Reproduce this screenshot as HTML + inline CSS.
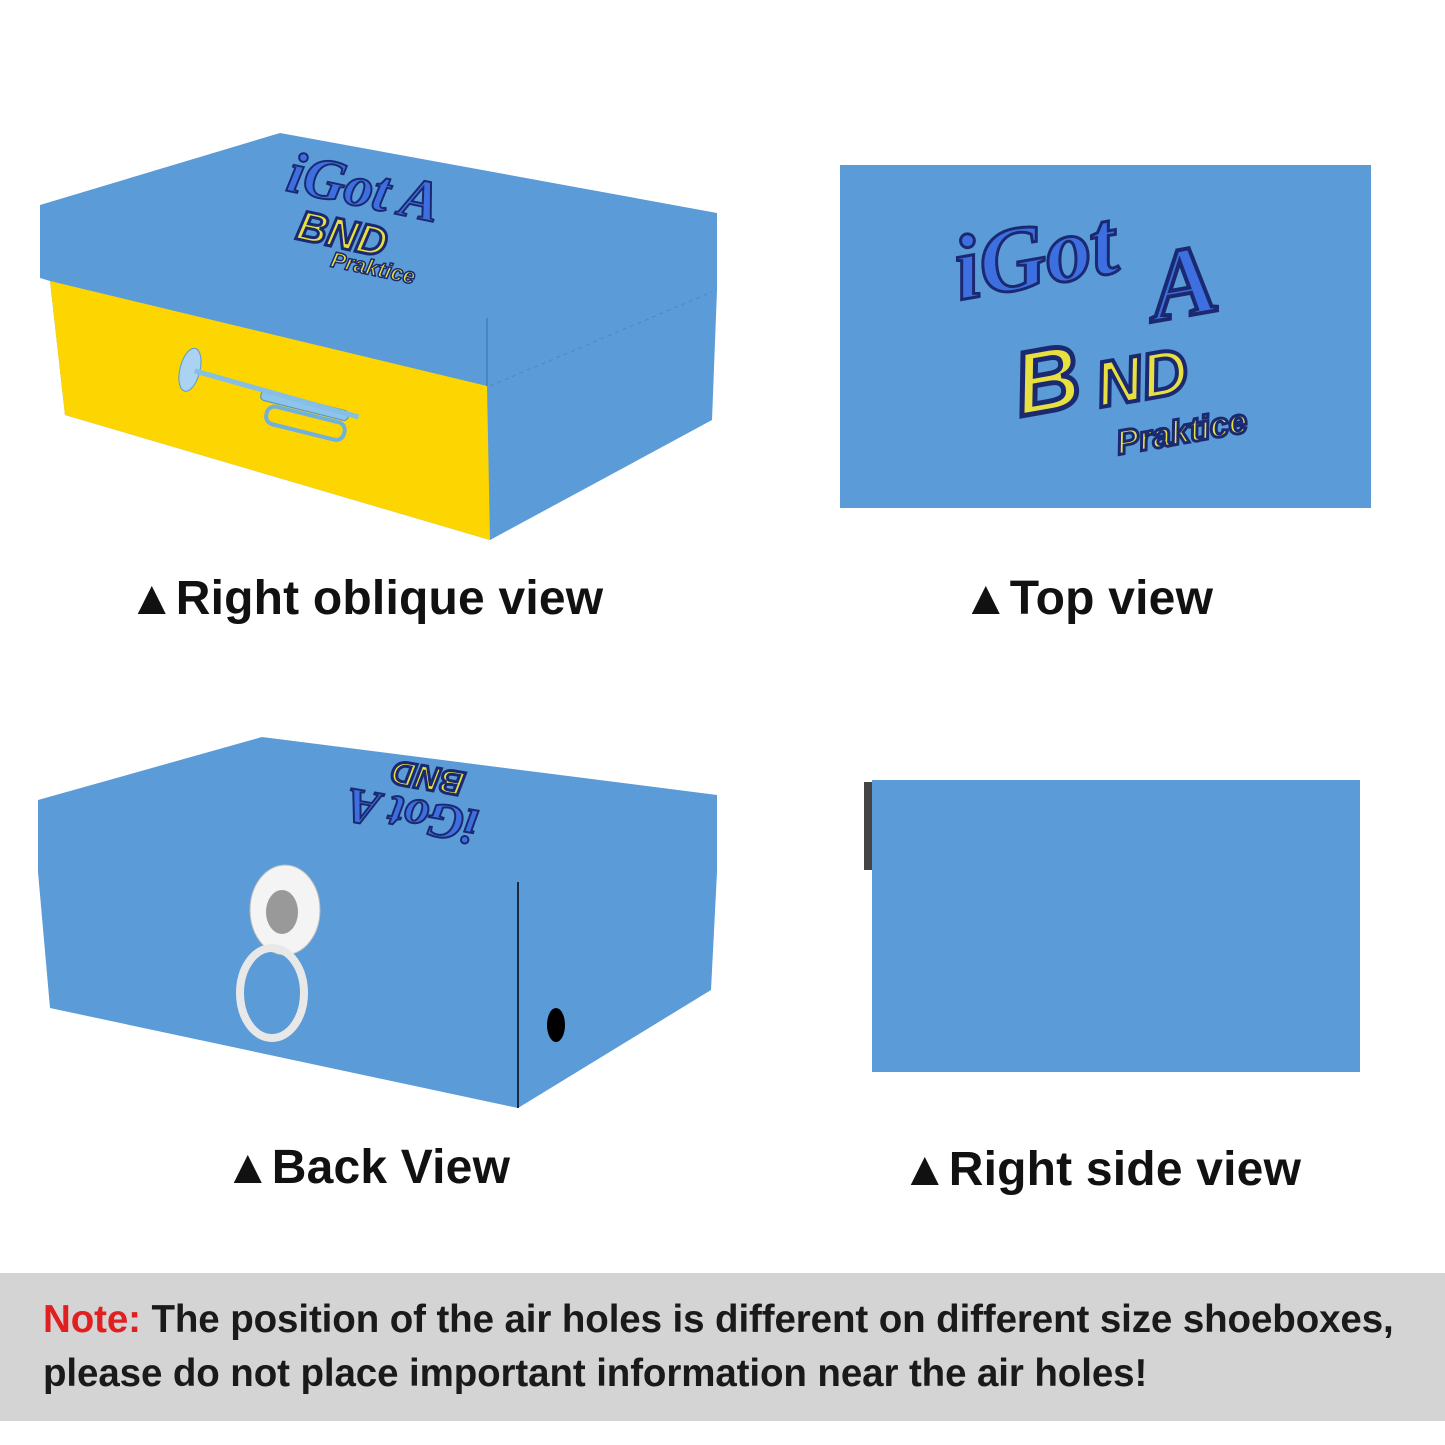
<!DOCTYPE html>
<html><head><meta charset="utf-8"><style>
html,body{margin:0;padding:0;background:#fff;}
body{width:1445px;height:1445px;position:relative;overflow:hidden;font-family:"Liberation Sans","DejaVu Sans",sans-serif;}
.lbl{position:absolute;font-weight:bold;font-size:48px;color:#111;white-space:nowrap;letter-spacing:0.2px;}
.band{position:absolute;left:0;top:1273px;width:1445px;height:148px;background:#d4d4d4;}
.note{position:absolute;left:43px;font-weight:bold;font-size:38.5px;color:#1a1a1a;white-space:nowrap;letter-spacing:-0.1px;}
</style></head><body>
<svg width="1445" height="1445" style="position:absolute;left:0;top:0">
<polygon points="40,205 280,133 717,213 717,290 712,420 490,540 65,415 50,281 40,278" fill="#5b9bd8"/>
<polygon points="50,281 487,386 490,540 65,415" fill="#fdd500"/>
<line x1="487" y1="318" x2="487" y2="386" stroke="#3f7fbf" stroke-width="1.5"/>
<line x1="490" y1="386" x2="712" y2="292" stroke="#4a88c8" stroke-width="1" stroke-dasharray="4,4"/>
<g transform="translate(400,225) rotate(12)">
<text x="-120" y="-10" font-size="58" font-weight="bold" font-style="italic" fill="#3d6fe0" stroke="#1b2a70" stroke-width="2" font-family="Liberation Serif,serif">iGot A</text>
<text x="-100" y="35" font-size="42" font-weight="bold" font-style="italic" fill="#e8e040" stroke="#1b2a70" stroke-width="3">BND</text>
<text x="-60" y="55" font-size="22" font-weight="bold" font-style="italic" fill="#e8e040" stroke="#1b2a70" stroke-width="1.5">Praktice</text>
</g>
<g transform="translate(270,400) rotate(14)">
<rect x="-10" y="-8" width="90" height="10" rx="4" fill="#8cc4ea" stroke="#4d8fc5"/>
<rect x="0" y="5" width="80" height="18" rx="8" fill="none" stroke="#6fb0de" stroke-width="4"/>
<ellipse cx="-85" cy="-10" rx="10" ry="22" fill="#a9d3f0" stroke="#5a9ad0"/>
<line x1="-80" y1="-10" x2="90" y2="-5" stroke="#86bfe6" stroke-width="5"/>
</g>
<polygon points="38,800 262,737 717,795 717,872 711,990 518,1108 50,1008 38,872" fill="#5b9bd8"/>
<line x1="518" y1="882" x2="518" y2="1108" stroke="#1a2a40" stroke-width="2"/>
<ellipse cx="556" cy="1025" rx="9" ry="17" fill="#000"/>
<g transform="translate(360,800) rotate(190)">
<text x="-120" y="10" font-size="50" font-weight="bold" font-style="italic" fill="#3d6fe0" stroke="#1b2a70" stroke-width="2" font-family="Liberation Serif,serif">iGot A</text>
<text x="-100" y="45" font-size="34" font-weight="bold" font-style="italic" fill="#e8e040" stroke="#1b2a70" stroke-width="3">BND</text>
</g>
<ellipse cx="285" cy="910" rx="35" ry="45" fill="#f4f4f4" stroke="#bbb"/>
<ellipse cx="282" cy="912" rx="16" ry="22" fill="#999"/>
<ellipse cx="272" cy="993" rx="32" ry="45" fill="none" stroke="#e8e8e8" stroke-width="8"/>
<rect x="840" y="165" width="531" height="343" fill="#5b9bd8"/>
<g transform="translate(1105,320) rotate(-10)">
<text x="-140" y="-45" font-size="92" font-weight="bold" font-style="italic" fill="#3d6fe0" stroke="#1b2a70" stroke-width="3" font-family="Liberation Serif,serif">iGot</text>
<text x="50" y="10" font-size="100" font-weight="bold" font-style="italic" fill="#3d6fe0" stroke="#1b2a70" stroke-width="4" font-family="Liberation Serif,serif">A</text>
<text x="-100" y="80" font-size="90" font-weight="bold" font-style="italic" fill="#e8e040" stroke="#1b2a70" stroke-width="5">B</text>
<text x="-20" y="85" font-size="64" font-weight="bold" font-style="italic" fill="#e8e040" stroke="#1b2a70" stroke-width="4">ND</text>
<text x="-10" y="135" font-size="34" font-weight="bold" font-style="italic" fill="#e8e040" stroke="#1b2a70" stroke-width="3">Praktice</text>
</g>
<rect x="864" y="782" width="8" height="88" fill="#444"/>
<rect x="872" y="780" width="488" height="292" fill="#5b9bd8"/>
</svg>
<div class="lbl" style="left:128px;top:571px">▲Right oblique view</div>
<div class="lbl" style="left:962px;top:571px">▲Top view</div>
<div class="lbl" style="left:224px;top:1140px">▲Back View</div>
<div class="lbl" style="left:901px;top:1142px">▲Right side view</div>
<div class="band"></div>
<div class="note" style="top:1298px"><span style="color:#e02020">Note:</span> The position of the air holes is different on different size shoeboxes,</div>
<div class="note" style="top:1352px">please do not place important information near the air holes!</div>
</body></html>
